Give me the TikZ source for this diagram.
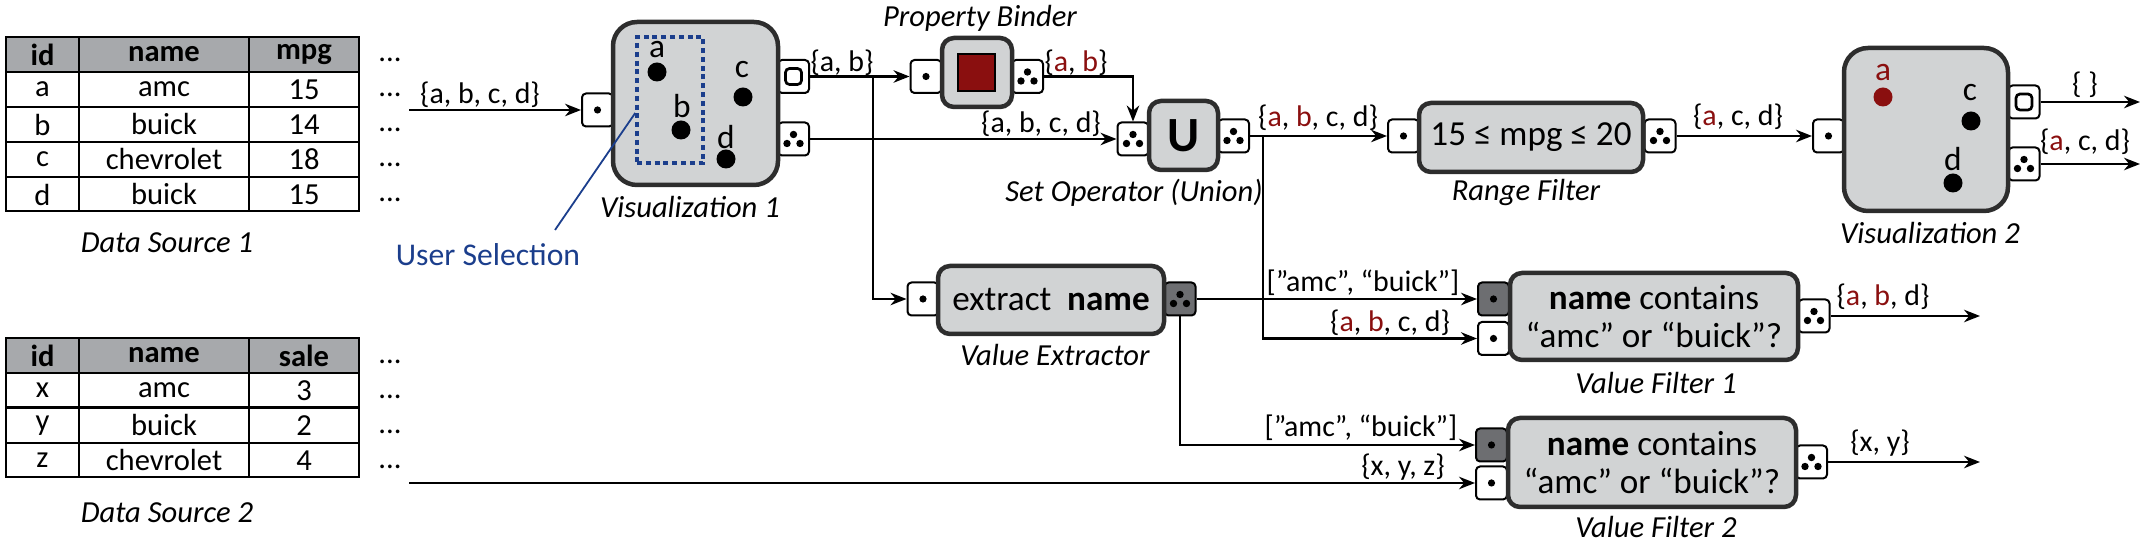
\documentclass[tikz,border=0pt]{standalone}
\usepackage{fontspec}
\setmainfont{Carlito}
\usepackage{xcolor}
\usepackage{tikz}
\usetikzlibrary{arrows.meta}

\definecolor{boxgray}{HTML}{D1D3D4}
\definecolor{headgray}{HTML}{A7A9AC}
\definecolor{portgray}{HTML}{6D6E71}
\definecolor{edgegray}{HTML}{2D2D2D}
\definecolor{selred}{HTML}{8A0F0F}
\definecolor{selblue}{HTML}{1B3E8C}

\newcommand{\rd}[1]{\textcolor{selred}{#1}}
\newcommand{\onedot}[1]{\fill (#1) circle[radius=0.36mm];}
\newcommand{\tridots}[1]{\fill ([shift={(0,-4.5)}]#1) circle[radius=0.37mm]
  ([shift={(-6.5,4.5)}]#1) circle[radius=0.37mm] ([shift={(6.5,4.5)}]#1) circle[radius=0.37mm];}
\newcommand{\hollowsq}[1]{\draw[line width=0.27mm,rounded corners=0.4mm]
  ([shift={(-8,-8)}]#1) rectangle ([shift={(8,8)}]#1);}

\begin{document}
\begin{tikzpicture}[x=0.1mm,y=-0.1mm,>={Stealth[length=1.6mm,width=1.25mm]},
  font=\fontsize{8.5}{10}\selectfont,line width=0.22mm,
  port/.style={draw,fill=white,line width=0.2mm,rounded corners=0.4mm,minimum width=3.1mm,minimum height=3.3mm,inner sep=0pt},
  dport/.style={port,fill=portgray},
  opbox/.style={draw=edgegray,fill=boxgray,line width=0.45mm,rounded corners=1.2mm,inner sep=0pt,font=\fontsize{10}{10.6}\selectfont},
  visbox/.style={opbox,rounded corners=2.4mm,minimum width=16.5mm,minimum height=16.3mm},
  pt/.style={circle,fill,inner sep=0pt,minimum size=1.9mm},
  ptlbl/.style={inner sep=0pt,font=\fontsize{9.5}{10}\selectfont},
  capt/.style={font=\fontsize{8.7}{10}\selectfont\itshape},
  hd/.style={inner sep=0pt,font=\fontsize{8.7}{10}\selectfont\bfseries},
  cell/.style={inner sep=0pt,font=\fontsize{8.7}{10}\selectfont},
  lbl/.style={inner sep=0pt}]
\useasboundingbox (0,0) rectangle (2150,543);

% data source 1
\fill[headgray] (6,37) rectangle (359,72);
\draw (6,72)--(359,72) (6,107)--(359,107) (6,142)--(359,142) (6,177)--(359,177);
\draw (79,37)--(79,211) (249,37)--(249,211);
\draw[line width=0.27mm] (6,37) rectangle (359,211);
\node[hd] (t1id) at (42.5,54.5) {id};
\node[hd] (t1name) at (164,54.5) {name};
\node[hd] (t1mpg) at (304,54.5) {mpg};
\foreach \i/\k/\n/\v in {1/a/amc/15,2/b/buick/14,3/c/chevrolet/18,4/d/buick/15}{
  \node[cell] (t1k\i) at (42.5,{54.5+35*\i}) {\k};
  \node[cell] (t1n\i) at (164,{54.5+35*\i}) {\n};
  \node[cell] (t1v\i) at (304,{54.5+35*\i}) {\v};}
\foreach \i in {0,...,4} \node[cell] (t1d\i) at (390,{59.5+35*\i}) {...};
\node[capt] (ds1) at (167,243) {Data Source 1};

% data source 2
\fill[headgray] (6,338) rectangle (359,373);
\draw (6,373)--(359,373) (6,407.5)--(359,407.5) (6,443)--(359,443);
\draw (79,338)--(79,477) (249,338)--(249,477);
\draw[line width=0.27mm] (6,338) rectangle (359,477);
\node[hd] (t2id) at (42.5,355.5) {id};
\node[hd] (t2name) at (164,355.5) {name};
\node[hd] (t2sale) at (304,355.5) {sale};
\foreach \i/\k/\n/\v in {1/x/amc/3,2/y/buick/2,3/z/chevrolet/4}{
  \node[cell] (t2k\i) at (42.5,{355.5+35*\i}) {\k};
  \node[cell] (t2n\i) at (164,{355.5+35*\i}) {\n};
  \node[cell] (t2v\i) at (304,{355.5+35*\i}) {\v};}
\foreach \i in {0,...,3} \node[cell] (t2d\i) at (390,{362+35*\i}) {...};
\node[capt] (ds2) at (167,513) {Data Source 2};

% visualization 1
\node[port] (v1in) at (597.5,110) {};
\node[port] (v1sel) at (793.5,76.5) {};
\node[port] (v1all) at (793.5,139) {};
\node[visbox] (vis1) at (695.5,103.5) {};
\node[draw=selblue,line width=0.35mm,dash pattern=on 0.5mm off 0.38mm,minimum width=6.6mm,minimum height=12.6mm,inner sep=0pt] (sel) at (670,100) {};
\node[pt] (p1a) at (657,72) {};  \node[ptlbl] (l1a) at (657,50) {a};
\node[pt] (p1b) at (681,130) {}; \node[ptlbl] (l1b) at (682,106) {b};
\node[pt] (p1c) at (743,97) {};  \node[ptlbl] (l1c) at (742,70) {c};
\node[pt] (p1d) at (726,159) {}; \node[ptlbl] (l1d) at (726,137) {d};
\node[capt] (vis1cap) at (690,207) {Visualization 1};
\node[selblue,font=\fontsize{9}{10}\selectfont] (usel) at (488,255) {User Selection};
\coordinate (u1) at (555,230);
\draw[selblue,line width=0.18mm] (u1) -- ([yshift=-1.3mm]sel.west);

% property binder
\node[port] (pbin) at (926,76.5) {};
\node[port] (pbout) at (1027.5,76.5) {};
\node[opbox,minimum width=7mm,minimum height=6.9mm] (pb) at (977,72.5) {};
\node[draw,line width=0.25mm,fill=selred,minimum size=3.7mm,inner sep=0pt] (pbsq) at (976.5,72.5) {};
\node[capt] (pbcap) at (980,18) {Property Binder};

% set operator
\node[port] (unin) at (1133,139) {};
\node[port] (unout) at (1233.5,136) {};
\node[opbox,minimum width=6.9mm,minimum height=6.9mm,font=\fontsize{14}{14}\selectfont\bfseries] (un) at (1183.5,135.5) {U};
\node[capt] (uncap) at (1134,193) {Set Operator (Union)};

% range filter
\node[port] (rfin) at (1403.5,136) {};
\node[port] (rfout) at (1660,136) {};
\node[opbox,minimum width=22.4mm,minimum height=6.9mm] (rf) at (1531,137.5) {15 ≤ mpg ≤ 20};
\node[capt] (rfcap) at (1526,193) {Range Filter};

% visualization 2
\node[port] (v2in) at (1828.5,136) {};
\node[port] (v2sel) at (2024,102) {};
\node[port] (v2all) at (2024,164) {};
\node[visbox,minimum width=16.4mm] (vis2) at (1926,129.5) {};
\node[pt,selred] (p2a) at (1883,97) {};  \node[ptlbl,selred] (l2a) at (1883,73) {a};
\node[pt] (p2c) at (1971,121) {}; \node[ptlbl] (l2c) at (1970,93) {c};
\node[pt] (p2d) at (1953,183) {}; \node[ptlbl] (l2d) at (1953,159) {d};
\node[capt] (vis2cap) at (1930,233) {Visualization 2};

% value extractor
\node[port] (vein) at (923,299) {};
\node[dport] (veout) at (1180,299) {};
\node[opbox,minimum width=22.6mm,minimum height=6.8mm] (ve) at (1051,300) {extract~~\textbf{name}};
\node[capt] (vecap) at (1055,355) {Value Extractor};

% value filter 1
\node[dport] (vf1a) at (1493.5,299) {};
\node[port] (vf1b) at (1493.5,338.5) {};
\node[port] (vf1out) at (1814,316) {};
\node[opbox,minimum width=28.8mm,minimum height=8.7mm,align=center] (vf1) at (1654,316.5) {\textbf{name} contains\\“amc” or “buick”?};
\node[capt] (vf1cap) at (1656,383) {Value Filter 1};

% value filter 2
\node[dport] (vf2a) at (1491.5,445) {};
\node[port] (vf2b) at (1491.5,483) {};
\node[port] (vf2out) at (1811.5,462) {};
\node[opbox,minimum width=28.8mm,minimum height=8.9mm,align=center] (vf2) at (1652,462.5) {\textbf{name} contains\\“amc” or “buick”?};
\node[capt] (vf2cap) at (1656,527) {Value Filter 2};

% port symbols
\onedot{v1in} \hollowsq{v1sel} \tridots{v1all}
\onedot{pbin} \tridots{pbout}
\tridots{unin} \tridots{unout}
\onedot{rfin} \tridots{rfout}
\onedot{v2in} \hollowsq{v2sel} \tridots{v2all}
\onedot{vein} \tridots{veout}
\onedot{vf1a} \onedot{vf1b} \tridots{vf1out}
\onedot{vf2a} \onedot{vf2b} \tridots{vf2out}

% connectors
\coordinate (s1) at (409,110);
\coordinate (s2) at (409,483);
\coordinate (br1) at (873,76.5);
\coordinate (br2) at (1263,136);
\coordinate (e1) at (2140,102);
\coordinate (e2) at (2140,164);
\coordinate (e3) at (1980,316);
\coordinate (e4) at (1980,462);
\draw[->] (s1) -- (v1in);
\draw[->] (v1sel) -- (pbin);
\draw[->] (br1) |- (vein);
\draw[->] (pbout) -| (unin);
\draw[->] (v1all) -- (unin);
\draw[->] (unout) -- (rfin);
\draw[->] (br2) |- (vf1b);
\draw[->] (rfout) -- (v2in);
\draw[->] (v2sel) -- (e1);
\draw[->] (v2all) -- (e2);
\draw[->] (veout) -- (vf1a);
\draw[->] (veout.south) |- (vf2a);
\draw[->] (s2) -- (vf2b);
\draw[->] (vf1out) -- (e3);
\draw[->] (vf2out) -- (e4);

% connector labels
\node[lbl] (m1) at (480,95) {\{a, b, c, d\}};
\node[lbl] (m2) at (842,63) {\{a, b\}};
\node[lbl] (m3) at (1076,63) {\{\rd{a}, \rd{b}\}};
\node[lbl] (m4) at (1041,124) {\{a, b, c, d\}};
\node[lbl] (m5) at (1318,118) {\{\rd{a}, \rd{b}, c, d\}};
\node[lbl] (m6) at (1738,117) {\{\rd{a}, c, d\}};
\node[lbl] (m7) at (2085,85) {\{ \}};
\node[lbl] (m8) at (2085,142) {\{\rd{a}, c, d\}};
\node[lbl] (m9) at (1363,283) {[”amc”, “buick”]};
\node[lbl] (m10) at (1390,323) {\{\rd{a}, \rd{b}, c, d\}};
\node[lbl] (m11) at (1883,297) {\{\rd{a}, \rd{b}, d\}};
\node[lbl] (m12) at (1361,428) {[”amc”, “buick”]};
\node[lbl] (m13) at (1403,467) {\{x, y, z\}};
\node[lbl] (m14) at (1880,443) {\{x, y\}};
\end{tikzpicture}
\end{document}
